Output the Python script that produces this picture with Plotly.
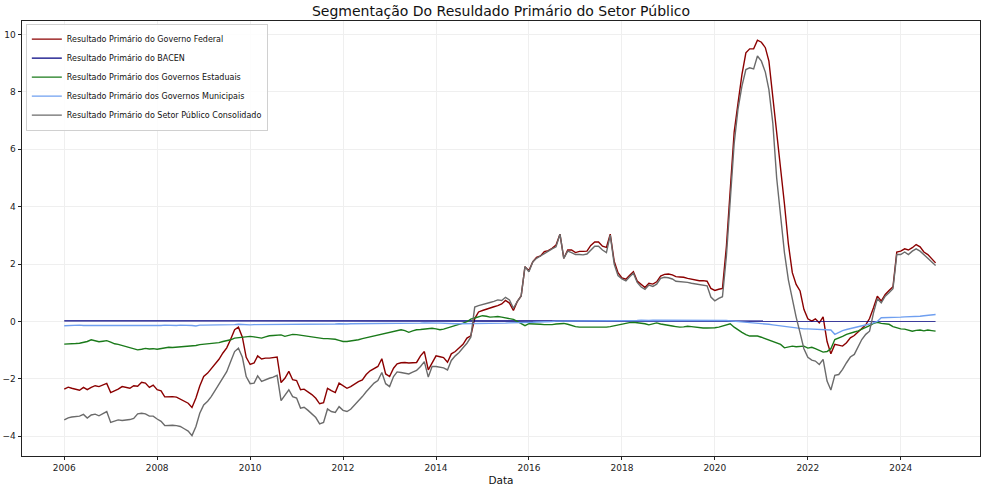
import pandas as pd
import plotly.graph_objects as go

# Monthly dates: Jan 2006 .. Oct 2024
dates = pd.date_range("2006-01-01", periods=226, freq="MS")

federal_rows = [
    [-2.36, -2.29, -2.33, -2.36, -2.40, -2.30, -2.38, -2.30, -2.24, -2.27, -2.22, -2.16],  # 2006
    [-2.48, -2.43, -2.36, -2.27, -2.30, -2.33, -2.24, -2.26, -2.12, -2.15, -2.30, -2.22],  # 2007
    [-2.38, -2.42, -2.63, -2.62, -2.62, -2.64, -2.70, -2.77, -2.85, -3.00, -2.67, -2.25],  # 2008
    [-1.92, -1.80, -1.65, -1.48, -1.32, -1.10, -0.92, -0.62, -0.29, -0.20, -0.55, -1.25],  # 2009
    [-1.50, -1.45, -1.20, -1.31, -1.28, -1.28, -1.27, -1.24, -2.13, -1.98, -1.74, -2.03],  # 2010
    [-2.06, -2.38, -2.36, -2.45, -2.55, -2.68, -2.87, -2.83, -2.33, -2.41, -2.48, -2.15],  # 2011
    [-2.24, -2.33, -2.27, -2.17, -2.10, -2.04, -1.85, -1.72, -1.65, -1.57, -1.30, -1.83],  # 2012
    [-1.92, -1.63, -1.48, -1.44, -1.43, -1.45, -1.44, -1.43, -1.20, -1.05, -1.69, -1.45],  # 2013
    [-1.20, -1.23, -1.26, -1.42, -1.13, -1.05, -0.92, -0.80, -0.58, -0.50, 0.10, 0.33],    # 2014
    [0.38, 0.43, 0.48, 0.51, 0.55, 0.61, 0.73, 0.64, 0.38, 0.69, 0.89, 1.91],              # 2015
    [1.77, 2.08, 2.23, 2.28, 2.43, 2.47, 2.55, 2.66, 3.04, 2.20, 2.49, 2.49],              # 2016
    [2.40, 2.44, 2.44, 2.45, 2.65, 2.77, 2.77, 2.62, 2.58, 3.04, 2.10, 1.70],              # 2017
    [1.52, 1.47, 1.60, 1.73, 1.41, 1.28, 1.18, 1.33, 1.30, 1.38, 1.58, 1.64],              # 2018
    [1.65, 1.62, 1.56, 1.55, 1.54, 1.50, 1.47, 1.44, 1.42, 1.42, 1.40, 1.15],              # 2019
    [1.08, 1.12, 1.15, 2.62, 4.50, 6.60, 7.60, 8.60, 9.36, 9.50, 9.50, 9.80],              # 2020
    [9.73, 9.54, 9.07, 7.85, 6.69, 5.41, 4.10, 2.70, 1.70, 1.29, 1.06, 0.42],              # 2021
    [0.09, 0.01, 0.09, -0.05, 0.16, -0.70, -1.13, -0.80, -0.84, -0.86, -0.74, -0.57],      # 2022
    [-0.49, -0.38, -0.25, -0.12, 0.10, 0.48, 0.88, 0.71, 0.94, 1.08, 1.21, 2.42],          # 2023
    [2.45, 2.53, 2.49, 2.57, 2.68, 2.60, 2.42, 2.33, 2.18, 2.04],                          # 2024
]

bacen_rows = [
    [0.02, 0.02, 0.02, 0.02, 0.02, 0.02, 0.02, 0.02, 0.02, 0.02, 0.02, 0.02],
    [0.02, 0.02, 0.02, 0.02, 0.02, 0.02, 0.02, 0.02, 0.02, 0.02, 0.02, 0.02],
    [0.02, 0.02, 0.02, 0.02, 0.02, 0.02, 0.02, 0.02, 0.02, 0.02, 0.02, 0.02],
    [0.02, 0.02, 0.02, 0.02, 0.02, 0.02, 0.02, 0.02, 0.02, 0.02, 0.02, 0.02],
    [0.02, 0.02, 0.02, 0.02, 0.02, 0.02, 0.02, 0.02, 0.02, 0.02, 0.02, 0.02],
    [0.02, 0.02, 0.02, 0.02, 0.02, 0.02, 0.02, 0.02, 0.02, 0.02, 0.02, 0.02],
    [0.02, 0.02, 0.02, 0.02, 0.02, 0.02, 0.02, 0.02, 0.02, 0.02, 0.02, 0.02],
    [0.02, 0.02, 0.02, 0.02, 0.02, 0.02, 0.02, 0.02, 0.02, 0.02, 0.02, 0.02],
    [0.02, 0.02, 0.02, 0.02, 0.02, 0.02, 0.02, 0.02, 0.02, 0.02, 0.01, 0.01],
    [0.01, 0.01, 0.01, 0.01, 0.01, 0.01, 0.01, 0.01, 0.01, 0.01, 0.01, 0.01],
    [0.01, 0.01, 0.01, 0.01, 0.01, 0.01, 0.01, 0.01, 0.01, 0.01, 0.01, 0.01],
    [0.01, 0.01, 0.01, 0.01, 0.01, 0.01, 0.01, 0.01, 0.01, 0.01, 0.01, 0.01],
    [0.01, 0.01, 0.01, 0.01, 0.01, 0.01, 0.01, 0.01, 0.01, 0.01, 0.01, 0.01],
    [0.01, 0.01, 0.01, 0.01, 0.01, 0.01, 0.01, 0.01, 0.01, 0.01, 0.01, 0.01],
    [0.01, 0.01, 0.01, 0.01, 0.01, 0.01, 0.01, 0.01, 0.01, 0.01, 0.01, 0.01],
    [0.01, 0.01, 0.01, 0.01, 0.01, 0.01, 0.01, 0.01, 0.01, 0.01, 0.01, 0.01],
    [0.01, 0.01, 0.01, 0.01, 0.01, 0.01, 0.01, 0.01, 0.01, 0.01, 0.01, 0.01],
    [0.01, 0.01, 0.01, 0.01, 0.01, 0.01, 0.01, 0.01, 0.01, 0.01, 0.01, 0.01],
    [0.01, 0.01, 0.01, 0.01, 0.01, 0.01, 0.01, 0.01, 0.01, 0.01],
]

estaduais_rows = [
    [-0.79, -0.79, -0.78, -0.77, -0.76, -0.73, -0.70, -0.64, -0.68, -0.71, -0.69, -0.67],
    [-0.72, -0.78, -0.80, -0.84, -0.87, -0.90, -0.94, -0.99, -0.97, -0.94, -0.96, -0.95],
    [-0.97, -0.95, -0.92, -0.90, -0.91, -0.90, -0.90, -0.89, -0.88, -0.87, -0.84, -0.81],
    [-0.80, -0.79, -0.78, -0.76, -0.74, -0.70, -0.68, -0.64, -0.58, -0.56, -0.54, -0.52],
    [-0.52, -0.54, -0.56, -0.58, -0.54, -0.50, -0.49, -0.48, -0.47, -0.52, -0.48, -0.45],
    [-0.46, -0.48, -0.50, -0.52, -0.53, -0.56, -0.59, -0.60, -0.60, -0.61, -0.62, -0.66],
    [-0.70, -0.70, -0.68, -0.67, -0.64, -0.60, -0.57, -0.52, -0.50, -0.48, -0.44, -0.42],
    [-0.38, -0.35, -0.32, -0.29, -0.32, -0.38, -0.33, -0.29, -0.28, -0.27, -0.25, -0.24],
    [-0.26, -0.29, -0.27, -0.23, -0.20, -0.15, -0.10, -0.06, -0.01, 0.08, 0.12, 0.15],
    [0.20, 0.18, 0.15, 0.16, 0.17, 0.15, 0.13, 0.11, 0.07, 0.00, -0.08, -0.15],
    [-0.08, -0.08, -0.09, -0.10, -0.11, -0.12, -0.11, -0.09, -0.08, -0.07, -0.10, -0.15],
    [-0.18, -0.20, -0.20, -0.20, -0.20, -0.20, -0.21, -0.20, -0.20, -0.18, -0.15, -0.12],
    [-0.09, -0.06, -0.04, -0.03, -0.04, -0.06, -0.08, -0.12, -0.08, -0.05, -0.09, -0.12],
    [-0.14, -0.16, -0.18, -0.20, -0.19, -0.17, -0.18, -0.20, -0.23, -0.23, -0.23, -0.23],
    [-0.22, -0.20, -0.16, -0.12, -0.08, -0.20, -0.30, -0.38, -0.46, -0.51, -0.51, -0.51],
    [-0.55, -0.60, -0.65, -0.70, -0.76, -0.80, -0.92, -0.90, -0.86, -0.88, -0.86, -0.86],
    [-0.93, -0.90, -0.95, -1.02, -1.07, -1.05, -0.95, -0.63, -0.58, -0.52, -0.45, -0.40],
    [-0.37, -0.33, -0.28, -0.22, -0.15, -0.07, -0.03, -0.07, -0.09, -0.10, -0.18, -0.22],
    [-0.26, -0.27, -0.30, -0.34, -0.31, -0.30, -0.33, -0.30, -0.32, -0.34],
]

municipais_rows = [
    [-0.15, -0.14, -0.14, -0.13, -0.13, -0.14, -0.14, -0.15, -0.15, -0.14, -0.15, -0.15],
    [-0.16, -0.16, -0.15, -0.15, -0.16, -0.16, -0.15, -0.15, -0.14, -0.15, -0.15, -0.14],
    [-0.14, -0.14, -0.13, -0.14, -0.14, -0.14, -0.13, -0.13, -0.12, -0.14, -0.16, -0.13],
    [-0.13, -0.13, -0.12, -0.12, -0.13, -0.12, -0.12, -0.11, -0.11, -0.10, -0.11, -0.12],
    [-0.12, -0.11, -0.11, -0.10, -0.11, -0.11, -0.10, -0.10, -0.11, -0.11, -0.10, -0.10],
    [-0.10, -0.10, -0.10, -0.09, -0.09, -0.10, -0.10, -0.09, -0.09, -0.09, -0.09, -0.08],
    [-0.09, -0.09, -0.08, -0.08, -0.08, -0.07, -0.08, -0.07, -0.07, -0.07, -0.06, -0.07],
    [-0.07, -0.07, -0.06, -0.06, -0.06, -0.07, -0.06, -0.06, -0.06, -0.05, -0.06, -0.06],
    [-0.06, -0.06, -0.07, -0.07, -0.07, -0.08, -0.08, -0.08, -0.08, -0.08, -0.08, -0.08],
    [-0.08, -0.08, -0.07, -0.07, -0.06, -0.06, -0.06, -0.05, -0.05, -0.05, -0.04, -0.04],
    [-0.03, -0.03, -0.02, -0.02, -0.01, -0.01, 0.00, 0.01, 0.01, 0.01, 0.02, 0.02],
    [0.02, 0.02, 0.02, 0.03, 0.02, 0.02, 0.02, 0.03, 0.02, 0.02, 0.02, 0.03],
    [0.03, 0.03, 0.03, 0.03, 0.03, 0.04, 0.03, 0.03, 0.04, 0.04, 0.04, 0.04],
    [0.04, 0.04, 0.04, 0.05, 0.04, 0.04, 0.05, 0.05, 0.05, 0.04, 0.05, 0.05],
    [0.05, 0.05, 0.04, 0.03, 0.02, 0.01, 0.00, -0.01, -0.02, -0.03, -0.04, -0.05],
    [-0.06, -0.08, -0.10, -0.12, -0.14, -0.16, -0.18, -0.20, -0.22, -0.24, -0.26, -0.26],
    [-0.26, -0.27, -0.28, -0.28, -0.29, -0.29, -0.30, -0.45, -0.38, -0.32, -0.28, -0.25],
    [-0.23, -0.20, -0.17, -0.13, -0.09, -0.05, 0.00, 0.13, 0.13, 0.13, 0.14, 0.14],
    [0.15, 0.16, 0.16, 0.17, 0.18, 0.18, 0.20, 0.21, 0.22, 0.24],
]

consolidado_rows = [
    [-3.43, -3.36, -3.33, -3.31, -3.30, -3.24, -3.37, -3.26, -3.23, -3.29, -3.22, -3.14],
    [-3.52, -3.46, -3.43, -3.45, -3.44, -3.42, -3.38, -3.22, -3.20, -3.22, -3.30, -3.30],
    [-3.40, -3.48, -3.63, -3.62, -3.62, -3.63, -3.66, -3.74, -3.82, -3.98, -3.66, -3.20],
    [-2.91, -2.78, -2.62, -2.40, -2.20, -1.98, -1.75, -1.40, -1.05, -0.93, -1.25, -1.92],
    [-2.17, -2.15, -1.90, -2.09, -2.03, -1.98, -1.94, -1.88, -2.76, -2.56, -2.38, -2.62],
    [-2.67, -3.02, -2.99, -3.10, -3.22, -3.35, -3.57, -3.52, -3.05, -3.14, -3.17, -2.97],
    [-3.10, -3.14, -3.06, -2.91, -2.80, -2.62, -2.45, -2.28, -2.15, -2.06, -1.78, -2.17],
    [-2.27, -1.92, -1.76, -1.78, -1.80, -1.83, -1.77, -1.71, -1.57, -1.40, -1.94, -1.57],
    [-1.57, -1.59, -1.62, -1.69, -1.36, -1.20, -1.08, -0.92, -0.76, -0.55, 0.50, 0.55],
    [0.58, 0.62, 0.66, 0.70, 0.75, 0.73, 0.84, 0.75, 0.46, 0.69, 0.89, 1.91],
    [1.73, 2.08, 2.20, 2.28, 2.37, 2.46, 2.53, 2.60, 3.04, 2.20, 2.45, 2.40],
    [2.33, 2.33, 2.32, 2.35, 2.50, 2.62, 2.62, 2.49, 2.40, 3.01, 2.00, 1.60],
    [1.48, 1.41, 1.55, 1.68, 1.36, 1.20, 1.12, 1.27, 1.22, 1.30, 1.50, 1.54],
    [1.52, 1.48, 1.40, 1.39, 1.38, 1.36, 1.33, 1.31, 1.28, 1.26, 1.24, 0.85],
    [0.72, 0.80, 0.86, 2.28, 4.10, 6.20, 7.40, 8.20, 8.78, 8.84, 8.80, 9.25],
    [9.07, 8.69, 8.08, 6.90, 5.00, 3.67, 2.40, 1.45, 0.75, 0.15, -0.40, -0.95],
    [-1.25, -1.35, -1.38, -1.50, -1.32, -2.08, -2.39, -1.88, -1.85, -1.67, -1.44, -1.24],
    [-1.15, -0.86, -0.63, -0.45, -0.34, 0.30, 0.79, 0.65, 0.88, 1.00, 1.14, 2.33],
    [2.33, 2.42, 2.33, 2.45, 2.53, 2.45, 2.33, 2.22, 2.10, 1.95],
]

series_names = [
    "Resultado Primário do Governo Federal",
    "Resultado Primário do BACEN",
    "Resultado Primário dos Governos Estaduais",
    "Resultado Primário dos Governos Municipais",
    "Resultado Primário do Setor Público Consolidado",
]
series_colors = ["#8b0000", "#000080", "#1a7a1a", "#6f9ff0", "#6b6b6b"]

y_ticks = [-4, -2, 0, 2, 4, 6, 8, 10]
x_tick_years = list(range(2006, 2025, 2))


def flat(rows):
    return [v for r in rows for v in r]


all_series = [federal_rows, bacen_rows, estaduais_rows, municipais_rows, consolidado_rows]

fig = go.Figure()
for name, color, rows in zip(series_names, series_colors, all_series):
    fig.add_trace(go.Scatter(
        x=dates, y=flat(rows), mode="lines", name=name,
        line=dict(color=color, width=1.4),
    ))

font_family = "DejaVu Sans"
fig.update_layout(
    width=988, height=489,
    margin=dict(l=22, r=8, t=21, b=33, autoexpand=False),
    paper_bgcolor="white", plot_bgcolor="white",
    font=dict(family=font_family, size=9, color="#222222"),
    title=dict(text="Segmentação Do Resuldado Primário do Setor Público",
               x=0.5, xref="paper", xanchor="center", y=0.978, yanchor="middle",
               font=dict(size=14, color="#111111", family=font_family)),
    showlegend=True,
    legend=dict(x=0.004, y=0.994, xanchor="left", yanchor="top",
                bgcolor="rgba(255,255,255,0.85)", bordercolor="#d0d0d0", borderwidth=1,
                font=dict(size=8, family=font_family, color="#111111"),
                itemwidth=30, tracegroupgap=0),
    hovermode=False,
)
fig.update_xaxes(
    automargin=False,
    range=["2005-02-03", "2025-09-15"],
    tickvals=[pd.Timestamp(f"{y}-01-01") for y in x_tick_years],
    ticktext=[str(y) for y in x_tick_years],
    ticks="outside", ticklen=3.5, tickwidth=0.8, tickcolor="#222222",
    showgrid=True, gridcolor="#efefef", gridwidth=0.8,
    showline=True, linecolor="#222222", linewidth=0.8, mirror=True,
    zeroline=False,
    title=dict(text="Data", font=dict(size=10.5, family=font_family, color="#111111"), standoff=4),
)
fig.update_yaxes(
    automargin=False,
    range=[-4.69, 10.47],
    tickvals=y_ticks,
    ticks="outside", ticklen=3.5, tickwidth=0.8, tickcolor="#222222",
    showgrid=True, gridcolor="#efefef", gridwidth=0.8,
    showline=True, linecolor="#222222", linewidth=0.8, mirror=True,
    zeroline=False,
)

fig.write_html(
    "out.html",
    config={"displayModeBar": False},
    post_script="document.body.style.margin='0';document.body.style.padding='0';",
)
